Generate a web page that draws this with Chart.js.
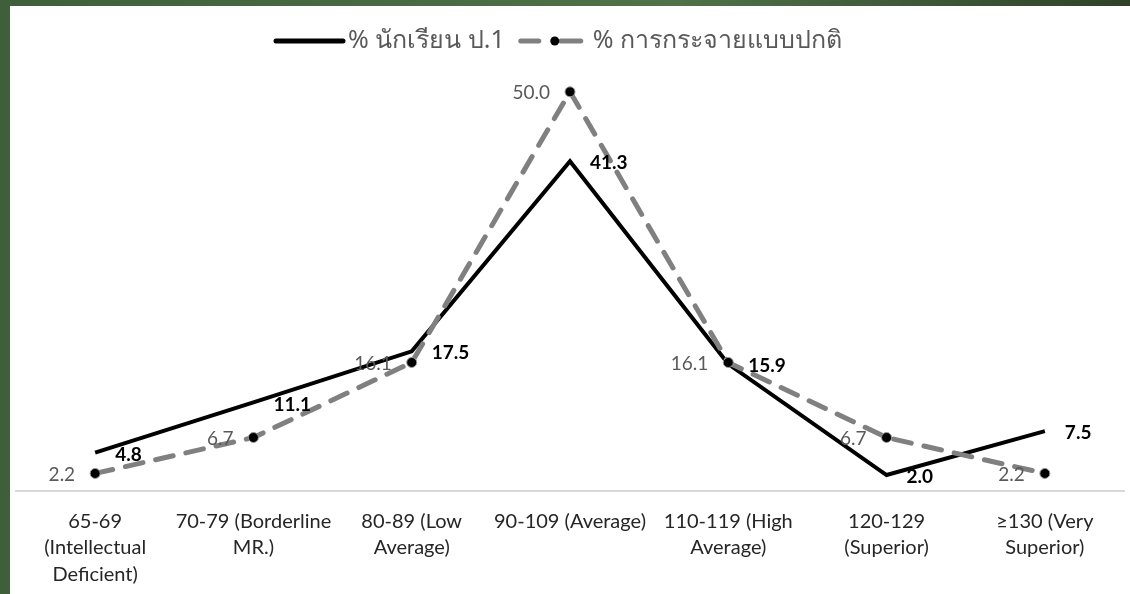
<!DOCTYPE html>
<html>
<head>
<meta charset="utf-8">
<script src="https://cdn.jsdelivr.net/npm/chart.js@4.4.1/dist/chart.umd.min.js"></script>
<style>
  body { margin: 0; width: 1130px; height: 594px; background: linear-gradient(90deg, #3f5f3b, #4f7248 60%, #2f4229); overflow: hidden; }
  #wrap { position: absolute; left: 10px; top: 6px; width: 1120px; height: 588px; background: #fff; }
</style>
</head>
<body>
<div id="wrap"><canvas id="iqChart" width="1120" height="588"></canvas></div>
<script>
const categories = [
  ['65-69', '(Intellectual', 'Deficient)'],
  ['70-79 (Borderline', 'MR.)'],
  ['80-89 (Low', 'Average)'],
  ['90-109 (Average)'],
  ['110-119 (High', 'Average)'],
  ['120-129', '(Superior)'],
  ['\u2265130 (Very', 'Superior)']
];
const studentPct = [4.8, 11.1, 17.5, 41.3, 15.9, 2.0, 7.5];
const normalPct = [2.2, 6.7, 16.1, 50.0, 16.1, 6.7, 2.2];
const seriesNames = ['% นักเรียน ป.1', '% การกระจายแบบปกติ'];

const FONT = 'Lato, "Open Sans", sans-serif';
const THAI = '"Noto Sans", "DejaVu Sans", sans-serif';

// legend + value labels drawn by hand
const extras = {
  id: 'extras',
  afterDatasetsDraw(chart) {
    const ctx = chart.ctx;
    ctx.save();
    // value labels
    const m0 = chart.getDatasetMeta(0).data;
    const m1 = chart.getDatasetMeta(1).data;
    ctx.textBaseline = 'middle';
    ctx.font = 'bold 19px ' + FONT;
    ctx.fillStyle = '#000';
    ctx.textAlign = 'left';
    m0.forEach((p, i) => ctx.fillText(studentPct[i].toFixed(1), p.x + 20, p.y + 2));
    ctx.font = '19px ' + FONT;
    ctx.fillStyle = '#595959';
    ctx.textAlign = 'right';
    m1.forEach((p, i) => ctx.fillText(normalPct[i].toFixed(1), p.x - 20, p.y + 1));

    // legend
    const y = 35;
    let x = 266;
    ctx.lineCap = 'round';
    ctx.strokeStyle = '#000';
    ctx.lineWidth = 5;
    ctx.beginPath(); ctx.moveTo(x, y); ctx.lineTo(x + 67, y); ctx.stroke();
    x += 72;
    ctx.font = '25px ' + THAI;
    ctx.fillStyle = '#595959';
    ctx.textAlign = 'left';
    ctx.fillText(seriesNames[0], x, y);
    x += ctx.measureText(seriesNames[0]).width + 14;
    ctx.strokeStyle = '#808080';
    ctx.beginPath(); ctx.moveTo(x + 2, y); ctx.lineTo(x + 20, y); ctx.stroke();
    ctx.beginPath(); ctx.moveTo(x + 42, y); ctx.lineTo(x + 62, y); ctx.stroke();
    ctx.fillStyle = '#000';
    ctx.beginPath(); ctx.arc(x + 36, y, 4.5, 0, Math.PI * 2); ctx.fill();
    x += 74;
    ctx.fillStyle = '#595959';
    ctx.fillText(seriesNames[1], x, y);
    ctx.restore();
  }
};

new Chart(document.getElementById('iqChart'), {
  type: 'line',
  data: {
    labels: categories,
    datasets: [{
      label: seriesNames[0],
      data: studentPct,
      borderColor: '#000',
      borderWidth: 4,
      pointRadius: 0,
      tension: 0,
      order: 2
    }, {
      label: seriesNames[1],
      data: normalPct,
      borderColor: '#808080',
      borderWidth: 5,
      borderDash: [18, 13],
      borderCapStyle: 'round',
      pointRadius: 5,
      pointBackgroundColor: '#000',
      pointBorderColor: '#9a9a9a',
      pointBorderWidth: 1,
      tension: 0,
      order: 1
    }]
  },
  options: {
    responsive: false,
    animation: false,
    layout: { padding: { left: 2, right: 2, top: 4, bottom: 0 } },
    plugins: { legend: { display: false }, tooltip: { enabled: false } },
    scales: {
      x: {
        offset: true,
        grid: { display: false },
        border: { display: true, color: '#d9d9d9', width: 2 },
        ticks: {
          color: '#262626',
          font: { family: FONT, size: 20, lineHeight: 1.33 },
          padding: 9,
          maxRotation: 0,
          autoSkip: false
        },
        afterFit: s => { s.height = 103; }
      },
      y: {
        display: false,
        min: 0,
        max: 60
      }
    }
  },
  plugins: [extras]
});
</script>
</body>
</html>
